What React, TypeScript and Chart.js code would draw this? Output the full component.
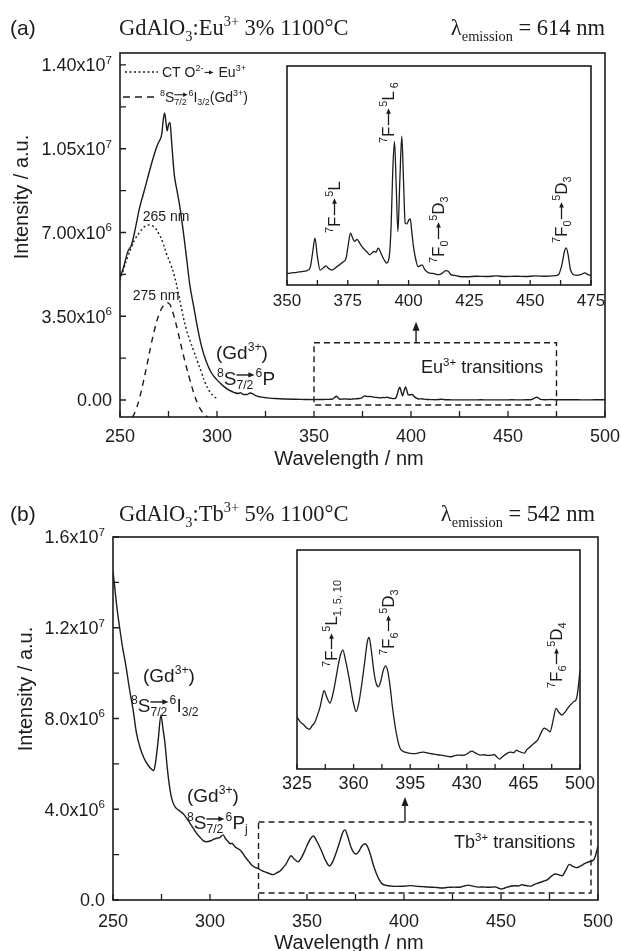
import React, { useEffect, useRef } from 'react';
import { Chart, registerables } from 'chart.js';
Chart.register(...registerables);

const INK = '#1c1c1c';
const SANS = '"Liberation Sans", Arial, Helvetica, sans-serif';
const SERIF = '"Liberation Serif", "Times New Roman", serif';

// ---------- data (intensity in units of 10^6 a.u.) ----------
const euWl = [
  250, 252, 254, 256, 258, 260, 262, 264, 266, 268,
  269.5, 270.5, 271.5, 272.3, 273, 273.7, 274.3, 275, 275.8, 276.5,
  278, 279.5, 281, 283, 284.5, 286, 288, 290, 292, 294.5,
  297, 300, 303, 306, 309, 311, 312, 313.5, 315.5, 317,
  318.5, 320, 323, 326, 330, 335, 340, 345, 350, 352,
  354, 356, 358, 359.5, 360.5, 361.5, 362.5, 363.6, 365, 366,
  367, 368.5, 370, 371.5, 373, 374.3, 375.2, 376.1, 377, 377.8,
  378.8, 379.9, 381, 382, 383, 384, 385, 385.8, 386.6, 387.5,
  388.9, 390, 391, 392, 392.8, 393.5, 394.2, 394.9, 395.6, 396.4,
  397.2, 397.9, 398.6, 399.3, 400.1, 400.7, 401.3, 402, 403, 403.9,
  404.8, 405.6, 406.5, 408.3, 410, 412.5, 414, 415.3, 416.3, 417.4,
  419, 421, 424, 428, 432, 436, 440, 444, 448, 452,
  456, 459, 461.5, 463, 464, 464.8, 465.6, 466.5, 467.5, 469,
  471, 472.5, 474, 476, 480, 485, 490, 495, 500,
];
const euI = [
  5.1, 5.6, 6.2, 6.5, 7.2, 8.0, 8.6, 9.2, 9.8, 10.35,
  10.7, 10.85, 11.1, 11.7, 12.0, 11.6, 11.25, 11.5, 11.6, 10.9,
  9.4, 8.7, 8.0, 6.8, 5.8, 4.8, 3.9, 3.0, 2.25, 1.6,
  1.15, 0.84, 0.6, 0.42, 0.31, 0.27, 0.31, 0.23, 0.23, 0.29,
  0.26, 0.18, 0.12, 0.09, 0.06, 0.04, 0.03, 0.024, 0.018, 0.02,
  0.022, 0.025, 0.028, 0.04, 0.096, 0.155, 0.083, 0.031, 0.04, 0.047,
  0.038, 0.031, 0.04, 0.051, 0.062, 0.077, 0.13, 0.174, 0.155, 0.142,
  0.15, 0.135, 0.12, 0.109, 0.1, 0.09, 0.098, 0.103, 0.1, 0.116,
  0.09, 0.07, 0.058, 0.08, 0.2, 0.42, 0.53, 0.36, 0.18, 0.38,
  0.55, 0.38, 0.213, 0.21, 0.225, 0.229, 0.18, 0.122, 0.07, 0.044,
  0.048, 0.051, 0.035, 0.02, 0.018, 0.013, 0.02, 0.029, 0.026, 0.013,
  0.01, 0.006, 0.005, 0.007, 0.006, 0.008, 0.006, 0.007, 0.006, 0.008,
  0.007, 0.008, 0.012, 0.05, 0.1, 0.117, 0.09, 0.035, 0.015, 0.01,
  0.014, 0.02, 0.012, 0.01, 0.008, 0.008, 0.007, 0.008, 0.008,
];
const ctWl = [250, 252, 254, 256, 258, 260, 262, 264, 266, 268, 270, 272, 274, 276, 278, 280, 282, 284, 286, 288, 290, 292, 294, 296, 298, 300];
const ctI = [5.0, 5.5, 6.0, 6.4, 6.75, 7.0, 7.2, 7.3, 7.3, 7.2, 6.95, 6.6, 6.1, 5.7, 5.2, 4.5, 3.7, 3.0, 2.5, 2.05, 1.6, 1.15, 0.7, 0.38, 0.18, 0.06];
const gdWl = [256.5, 258, 260, 262, 264, 266, 268, 270, 272, 274, 275, 276, 278, 280, 282, 284, 286, 288, 290, 292, 294, 295.5];
const gdI = [-0.72, -0.45, 0.05, 0.75, 1.5, 2.3, 3.0, 3.55, 3.9, 4.05, 4.05, 3.95, 3.45, 2.8, 2.1, 1.45, 0.85, 0.3, -0.15, -0.45, -0.65, -0.72];

const tbWl = [
  250, 251, 252, 253.6, 255, 256.5, 258.5, 260.5, 262, 264,
  266, 268, 270, 271, 272, 273.3, 274.7, 275.7, 276.8, 278,
  279.4, 280.5, 282, 284, 286.2, 288, 289.7, 291.5, 293.1, 295,
  296.5, 298.2, 300, 302, 303.4, 305, 306.8, 308, 309.4, 310.5,
  311.2, 312, 312.9, 314, 315.5, 317, 318, 320, 321.5, 323,
  325, 327, 329, 331, 332.6, 334.4, 336.2, 337.8, 339.3, 340.5,
  341.7, 343.5, 345.4, 347, 348.5, 350, 351.8, 353.3, 355, 357.4,
  359.5, 361.6, 363.3, 365.1, 367, 368.5, 369.6, 370.8, 372.7, 374,
  375.4, 376.8, 378.3, 379.9, 381.2, 382.6, 384, 385.7, 387.2, 388.8,
  390.5, 391.9, 394, 396, 399.2, 401, 403.3, 406, 409.5, 412,
  415, 417, 419.8, 422, 424, 426, 428, 430, 431.5, 433.2,
  435, 438.4, 441, 443, 445.6, 447, 448.5, 450.3, 452, 454.9,
  457, 459, 460.7, 462, 463.5, 465.6, 467, 469, 471.8, 474,
  476, 477.8, 479.5, 481.5, 483.3, 485.2, 487, 488.9, 491, 493,
  495, 496.5, 497.5, 498.5, 499.3, 500,
];
const tbI = [
  14.5, 13.7, 12.9, 11.9, 11.1, 10.4, 9.3, 8.3, 7.4, 6.7,
  6.25, 5.95, 5.75, 5.7, 6.1, 7.05, 8.15, 7.6, 6.9, 5.8,
  4.85, 4.4, 4.1, 3.95, 3.8, 3.6, 3.38, 3.15, 2.94, 2.75,
  2.62, 2.57, 2.6, 2.68, 2.72, 2.75, 2.87, 2.7, 2.57, 2.48,
  2.5, 2.45, 2.35, 2.28, 2.2, 2.05, 1.91, 1.7, 1.54, 1.45,
  1.38, 1.28, 1.22, 1.15, 1.12, 1.2, 1.28, 1.44, 1.6, 1.8,
  1.95, 1.8, 1.68, 1.85, 2.1, 2.4, 2.7, 2.82, 2.6, 2.18,
  1.75, 1.5, 1.7, 2.1, 2.6, 3.0, 3.09, 2.85, 2.32, 2.1,
  2.03, 2.15, 2.38, 2.48, 2.35, 2.03, 1.6, 1.18, 0.9, 0.71,
  0.65, 0.63, 0.61, 0.6, 0.605, 0.62, 0.633, 0.61, 0.59, 0.575,
  0.56, 0.55, 0.532, 0.55, 0.565, 0.569, 0.56, 0.59, 0.63, 0.654,
  0.62, 0.569, 0.575, 0.56, 0.569, 0.58, 0.53, 0.483, 0.53, 0.605,
  0.63, 0.62, 0.676, 0.65, 0.63, 0.61, 0.68, 0.74, 0.826, 0.9,
  1.05, 1.147, 1.12, 1.068, 1.3, 1.569, 1.48, 1.425, 1.5, 1.6,
  1.676, 1.72, 1.747, 1.9, 2.15, 2.39,
];

// ---------- ticks ----------
const xTicksMain = [250, 275, 300, 325, 350, 375, 400, 425, 450, 475, 500];
const xLabelsMain = [250, 300, 350, 400, 450, 500];
const yTicksA = [0, 1.75, 3.5, 5.25, 7, 8.75, 10.5, 12.25, 14];
const yLabelValsA = [0, 3.5, 7, 10.5, 14];
const yLabelsA = ['0.00', '3.50x10^{6}', '7.00x10^{6}', '1.05x10^{7}', '1.40x10^{7}'];
const yTicksB = [0, 2, 4, 6, 8, 10, 12, 14, 16];
const yLabelValsB = [0, 4, 8, 12, 16];
const yLabelsB = ['0.0', '4.0x10^{6}', '8.0x10^{6}', '1.2x10^{7}', '1.6x10^{7}'];
const insetATicks = [350, 362.5, 375, 387.5, 400, 412.5, 425, 437.5, 450, 462.5, 475];
const insetALabels = [350, 375, 400, 425, 450, 475];
const insetBTicks = [325, 342.5, 360, 377.5, 395, 412.5, 430, 447.5, 465, 482.5, 500];
const insetBLabels = [325, 360, 395, 430, 465, 500];

// ---------- rich text helpers ----------
type Seg = { t: string; k: 'n' | 'sup' | 'sub' | 'arr' | 'oarr' };
function parseRich(s: string): Seg[] {
  const out: Seg[] = [];
  let buf = '';
  let i = 0;
  const flush = () => { if (buf) { out.push({ t: buf, k: 'n' }); buf = ''; } };
  while (i < s.length) {
    const c = s[i];
    if ((c === '^' || c === '_') && s[i + 1] === '{') {
      flush();
      const end = s.indexOf('}', i);
      out.push({ t: s.slice(i + 2, end), k: c === '^' ? 'sup' : 'sub' });
      i = end + 1;
    } else if (s.startsWith('->', i)) {
      flush(); out.push({ t: '', k: 'arr' }); i += 2;
    } else if (s.startsWith('=>', i)) {
      flush(); out.push({ t: '', k: 'oarr' }); i += 2;
    } else { buf += c; i++; }
  }
  flush();
  return out;
}

function arrowRight(ctx: CanvasRenderingContext2D, x1: number, x2: number, y: number, size: number) {
  const hl = Math.max(4, size * 0.32);
  const hw = Math.max(2.2, size * 0.14);
  ctx.save();
  ctx.setLineDash([]);
  ctx.lineWidth = Math.max(1, size * 0.075);
  ctx.beginPath(); ctx.moveTo(x1, y); ctx.lineTo(x2 - hl * 0.6, y); ctx.stroke();
  ctx.beginPath(); ctx.moveTo(x2, y); ctx.lineTo(x2 - hl, y - hw); ctx.lineTo(x2 - hl, y + hw); ctx.closePath(); ctx.fill();
  ctx.restore();
}

type RichOpt = { size: number; family?: string; align?: 'left' | 'center' | 'right'; rot?: boolean; arrow?: number; small?: number };
function drawRich(ctx: CanvasRenderingContext2D, str: string, x: number, y: number, o: RichOpt) {
  const size = o.size;
  const fam = o.family || SANS;
  const small = size * (o.small ?? 0.64);
  const items: any[] = [];
  let cx = 0, prevX = 0, prevW = 0;
  for (const s of parseRich(str)) {
    if (s.k === 'n' || s.k === 'sup' || s.k === 'sub') {
      const fs = s.k === 'n' ? size : small;
      const font = `${fs}px ${fam}`;
      ctx.font = font;
      const w = ctx.measureText(s.t).width;
      const dy = s.k === 'sup' ? -size * 0.42 : s.k === 'sub' ? size * 0.24 : 0;
      items.push({ t: s.t, x: cx, dy, font });
      prevX = cx; prevW = w; cx += w;
    } else if (s.k === 'arr') {
      const len = o.arrow ?? size;
      items.push({ arrow: true, x: cx + size * 0.08, len, dy: -size * 0.33 });
      cx += len + size * 0.16;
    } else {
      const len = Math.max(prevW, size * 0.95);
      items.push({ arrow: true, x: prevX, len, dy: -size * 0.52 });
      cx = prevX + len + size * 0.06;
    }
  }
  const W = cx;
  const start = o.align === 'center' ? -W / 2 : o.align === 'right' ? -W : 0;
  const base = size * 0.36;
  ctx.save();
  ctx.fillStyle = INK; ctx.strokeStyle = INK;
  ctx.textBaseline = 'alphabetic'; ctx.textAlign = 'left';
  ctx.translate(x, y);
  if (o.rot) ctx.rotate(-Math.PI / 2);
  for (const it of items) {
    if (it.arrow) arrowRight(ctx, start + it.x, start + it.x + it.len, base + it.dy, size);
    else { ctx.font = it.font; ctx.fillText(it.t, start + it.x, base + it.dy); }
  }
  ctx.restore();
}

function arrowUp(ctx: CanvasRenderingContext2D, x: number, yFrom: number, yTo: number) {
  ctx.save();
  ctx.setLineDash([]); ctx.strokeStyle = INK; ctx.fillStyle = INK; ctx.lineWidth = 1.4;
  ctx.beginPath(); ctx.moveTo(x, yFrom); ctx.lineTo(x, yTo + 5); ctx.stroke();
  ctx.beginPath(); ctx.moveTo(x, yTo); ctx.lineTo(x - 3.5, yTo + 9); ctx.lineTo(x + 3.5, yTo + 9); ctx.closePath(); ctx.fill();
  ctx.restore();
}

function frameAndTicks(chart: any, len: number, axes: string[]) {
  const ctx = chart.ctx as CanvasRenderingContext2D;
  const a = chart.chartArea;
  ctx.save();
  ctx.setLineDash([]);
  ctx.strokeStyle = INK; ctx.lineWidth = 1.6;
  ctx.strokeRect(a.left, a.top, a.right - a.left, a.bottom - a.top);
  ctx.lineWidth = 1.3;
  for (const id of axes) {
    const s = chart.scales[id];
    ctx.beginPath();
    for (const t of s.ticks) {
      const p = s.getPixelForValue(t.value);
      if (s.isHorizontal()) { ctx.moveTo(p, a.bottom); ctx.lineTo(p, a.bottom - len); }
      else { ctx.moveTo(a.left, p); ctx.lineTo(a.left + len, p); }
    }
    ctx.stroke();
  }
  ctx.restore();
}

function dashedBox(chart: any, x1: number, x2: number, y1: number, y2: number) {
  const ctx = chart.ctx as CanvasRenderingContext2D;
  const xs = chart.scales.x, ys = chart.scales.y;
  const px1 = xs.getPixelForValue(x1), px2 = xs.getPixelForValue(x2);
  const py1 = ys.getPixelForValue(y1), py2 = ys.getPixelForValue(y2);
  ctx.save();
  ctx.strokeStyle = INK; ctx.lineWidth = 1.4; ctx.setLineDash([6, 4]);
  ctx.strokeRect(px1, py2, px2 - px1, py1 - py2);
  ctx.restore();
}

const pts = (xs: number[], ys: number[]) => xs.map((x, i) => ({ x, y: ys[i] }));
const setTicks = (vals: number[]) => (s: any) => { s.ticks = vals.map((v) => ({ value: v })); };
const fixW = (w: number) => (s: any) => { s.width = w; s.paddingTop = 0; s.paddingBottom = 0; s.paddingLeft = 0; s.paddingRight = 0; };
const fixH = (h: number) => (s: any) => { s.height = h; s.paddingTop = 0; s.paddingBottom = 0; s.paddingLeft = 0; s.paddingRight = 0; };
const line = (xs: number[], ys: number[], dash: number[] = [], w = 1.4, mono = true) => ({
  data: pts(xs, ys), borderColor: INK, borderWidth: w, borderDash: dash, pointRadius: 0, fill: false,
  ...(mono ? { cubicInterpolationMode: 'monotone' } : { tension: 0.4 }),
});
const hidden = { grid: { display: false, drawTicks: false }, border: { display: false } };
const baseOpts = {
  animation: false, responsive: false, events: [],
  plugins: { legend: { display: false }, tooltip: { enabled: false } },
};

// ---------- chart configs ----------
function configA(): any {
  return {
    type: 'line',
    data: { datasets: [line(euWl, euI), line(ctWl, ctI, [2, 2.5], 1.4, false), line(gdWl, gdI, [6, 5], 1.4, false)] },
    options: {
      ...baseOpts,
      layout: { padding: { top: 53, right: 16, bottom: 0, left: 0 } },
      scales: {
        x: {
          type: 'linear', min: 250, max: 500, ...hidden,
          afterFit: fixH(53), afterBuildTicks: setTicks(xTicksMain),
          ticks: { autoSkip: false, maxRotation: 0, padding: 11, color: INK, font: { family: SANS, size: 18, lineHeight: 1 },
            callback: (v: any) => (xLabelsMain.includes(v) ? String(v) : '') },
        },
        y: {
          type: 'linear', min: -0.71, max: 14.5, ...hidden,
          afterFit: fixW(120), afterBuildTicks: setTicks(yTicksA), ticks: { display: false },
        },
      },
    },
    plugins: [{
      id: 'decoA',
      afterDraw(chart: any) {
        const ctx = chart.ctx as CanvasRenderingContext2D;
        const a = chart.chartArea; const xs = chart.scales.x; const ys = chart.scales.y;
        frameAndTicks(chart, 6, ['x', 'y']);
        yLabelValsA.forEach((v, i) => drawRich(ctx, yLabelsA[i], a.left - 8, ys.getPixelForValue(v), { size: 18, align: 'right' }));
        drawRich(ctx, 'Intensity / a.u.', 21, 197, { size: 20, rot: true, align: 'center' });
        drawRich(ctx, 'Wavelength / nm', 349, 458, { size: 20, align: 'center' });
        drawRich(ctx, '(a)', 10, 27, { size: 21 });
        drawRich(ctx, 'GdAlO_{3}:Eu^{3+} 3% 1100°C', 119, 27, { size: 22.5, family: SERIF });
        drawRich(ctx, 'λ_{emission} = 614 nm', 605, 27, { size: 22.5, family: SERIF, align: 'right' });
        // legend
        ctx.save();
        ctx.strokeStyle = INK; ctx.lineWidth = 1.4;
        ctx.setLineDash([2, 2.5]); ctx.beginPath(); ctx.moveTo(125, 72); ctx.lineTo(158, 72); ctx.stroke();
        ctx.setLineDash([7, 5]); ctx.beginPath(); ctx.moveTo(123, 97); ctx.lineTo(158, 97); ctx.stroke();
        ctx.restore();
        drawRich(ctx, 'CT O^{2-}-> Eu^{3+}', 162, 72, { size: 14, arrow: 9 });
        drawRich(ctx, '^{8}S_{7/2}=>^{6}I_{3/2}(Gd^{3+})', 160, 97, { size: 14 });
        drawRich(ctx, '265 nm', 166, 216, { size: 14, align: 'center' });
        drawRich(ctx, '275 nm', 156, 295, { size: 14, align: 'center' });
        drawRich(ctx, '(Gd^{3+})', 216, 352, { size: 19 });
        drawRich(ctx, '^{8}S_{7/2}=>^{6}P', 217, 378, { size: 19 });
        dashedBox(chart, 350, 475, -0.21, 2.39);
        arrowUp(ctx, xs.getPixelForValue(402.6), ys.getPixelForValue(2.39), ys.getPixelForValue(3.27));
        drawRich(ctx, 'Eu^{3+} transitions', 421, 367, { size: 18 });
      },
    }],
  };
}

function configInsetA(): any {
  return {
    type: 'line',
    data: { datasets: [line(euWl, euI, [], 1.3)] },
    options: {
      ...baseOpts,
      layout: { padding: { top: 11, right: 19, bottom: 0, left: 17 } },
      scales: {
        x: {
          type: 'linear', min: 350, max: 475, ...hidden,
          afterFit: fixH(30), afterBuildTicks: setTicks(insetATicks),
          ticks: { autoSkip: false, maxRotation: 0, padding: 8, color: INK, font: { family: SANS, size: 17, lineHeight: 1 },
            callback: (v: any) => (insetALabels.includes(v) ? String(v) : '') },
        },
        y: { type: 'linear', min: -0.027, max: 0.822, display: false },
      },
    },
    plugins: [{
      id: 'decoIA',
      afterDraw(chart: any) {
        const ctx = chart.ctx as CanvasRenderingContext2D;
        frameAndTicks(chart, 5, ['x']);
        drawRich(ctx, '^{7}F->^{5}L', 64, 178, { size: 17, rot: true, arrow: 17 });
        drawRich(ctx, '^{7}F->^{5}L_{ 6}', 118, 88, { size: 17, rot: true, arrow: 17 });
        drawRich(ctx, '^{7}F_{0}->^{5}D_{3}', 168, 208, { size: 17, rot: true, arrow: 17 });
        drawRich(ctx, '^{7}F_{0}->^{5}D_{3}', 291, 188, { size: 17, rot: true, arrow: 17 });
      },
    }],
  };
}

function configB(): any {
  return {
    type: 'line',
    data: { datasets: [line(tbWl, tbI)] },
    options: {
      ...baseOpts,
      layout: { padding: { top: 67, right: 23, bottom: 0, left: 0 } },
      scales: {
        x: {
          type: 'linear', min: 250, max: 500, ...hidden,
          afterFit: fixH(51), afterBuildTicks: setTicks(xTicksMain),
          ticks: { autoSkip: false, maxRotation: 0, padding: 13, color: INK, font: { family: SANS, size: 18, lineHeight: 1 },
            callback: (v: any) => (xLabelsMain.includes(v) ? String(v) : '') },
        },
        y: {
          type: 'linear', min: 0, max: 16, ...hidden,
          afterFit: fixW(113), afterBuildTicks: setTicks(yTicksB), ticks: { display: false },
        },
      },
    },
    plugins: [{
      id: 'decoB',
      afterDraw(chart: any) {
        const ctx = chart.ctx as CanvasRenderingContext2D;
        const a = chart.chartArea; const xs = chart.scales.x; const ys = chart.scales.y;
        frameAndTicks(chart, 6, ['x', 'y']);
        yLabelValsB.forEach((v, i) => drawRich(ctx, yLabelsB[i], a.left - 8, ys.getPixelForValue(v), { size: 18, align: 'right' }));
        drawRich(ctx, 'Intensity / a.u.', 25, 219, { size: 20, rot: true, align: 'center' });
        drawRich(ctx, 'Wavelength / nm', 349, 472, { size: 20, align: 'center' });
        drawRich(ctx, '(b)', 10, 43, { size: 21 });
        drawRich(ctx, 'GdAlO_{3}:Tb^{3+} 5% 1100°C', 119, 43, { size: 22.5, family: SERIF });
        drawRich(ctx, 'λ_{emission} = 542 nm', 595, 43, { size: 22.5, family: SERIF, align: 'right' });
        drawRich(ctx, '(Gd^{3+})', 143, 205, { size: 19 });
        drawRich(ctx, '^{8}S_{7/2}=>^{6}I_{3/2}', 131, 235, { size: 19 });
        drawRich(ctx, '(Gd^{3+})', 187, 325, { size: 19 });
        drawRich(ctx, '^{8}S_{7/2}=>^{6}P_{j}', 187, 352, { size: 19 });
        dashedBox(chart, 325, 496.4, 0.31, 3.44);
        arrowUp(ctx, xs.getPixelForValue(400.5), ys.getPixelForValue(3.44), ys.getPixelForValue(4.54));
        drawRich(ctx, 'Tb^{3+} transitions', 454, 372, { size: 18 });
      },
    }],
  };
}

function configInsetB(): any {
  return {
    type: 'line',
    data: { datasets: [line(tbWl, tbI, [], 1.3)] },
    options: {
      ...baseOpts,
      layout: { padding: { top: 10, right: 30, bottom: 0, left: 17 } },
      scales: {
        x: {
          type: 'linear', min: 325, max: 500, ...hidden,
          afterFit: fixH(31), afterBuildTicks: setTicks(insetBTicks),
          ticks: { autoSkip: false, maxRotation: 0, padding: 6, color: INK, font: { family: SANS, size: 18, lineHeight: 1 },
            callback: (v: any) => (insetBLabels.includes(v) ? String(v) : '') },
        },
        y: { type: 'linear', min: 0.27, max: 4.96, display: false },
      },
    },
    plugins: [{
      id: 'decoIB',
      afterDraw(chart: any) {
        const ctx = chart.ctx as CanvasRenderingContext2D;
        frameAndTicks(chart, 5, ['x']);
        drawRich(ctx, '^{7}F->^{5}L_{1, 5, 10}', 51, 127, { size: 17, rot: true, arrow: 16 });
        drawRich(ctx, '^{7}F_{6}->^{5}D_{3}', 108, 115, { size: 17, rot: true, arrow: 16 });
        drawRich(ctx, '^{7}F_{6}->^{5}D_{4}', 276, 148, { size: 17, rot: true, arrow: 16 });
      },
    }],
  };
}

function ChartCanvas(props: { left: number; top: number; width: number; height: number; make: () => any }) {
  const ref = useRef<HTMLCanvasElement>(null);
  useEffect(() => {
    const c = new Chart(ref.current as HTMLCanvasElement, props.make());
    return () => c.destroy();
  }, []);
  return (
    <canvas ref={ref} width={props.width} height={props.height}
      style={{ position: 'absolute', left: props.left, top: props.top, width: props.width, height: props.height }} />
  );
}

export default function App() {
  return (
    <div style={{ position: 'absolute', left: 0, top: 0, width: 621, height: 951, background: '#fff', overflow: 'hidden' }}>
      <ChartCanvas left={0} top={0} width={621} height={470} make={configA} />
      <ChartCanvas left={0} top={470} width={621} height={481} make={configB} />
      <ChartCanvas left={270} top={55} width={340} height={260} make={configInsetA} />
      <ChartCanvas left={280} top={540} width={330} height={260} make={configInsetB} />
    </div>
  );
}
